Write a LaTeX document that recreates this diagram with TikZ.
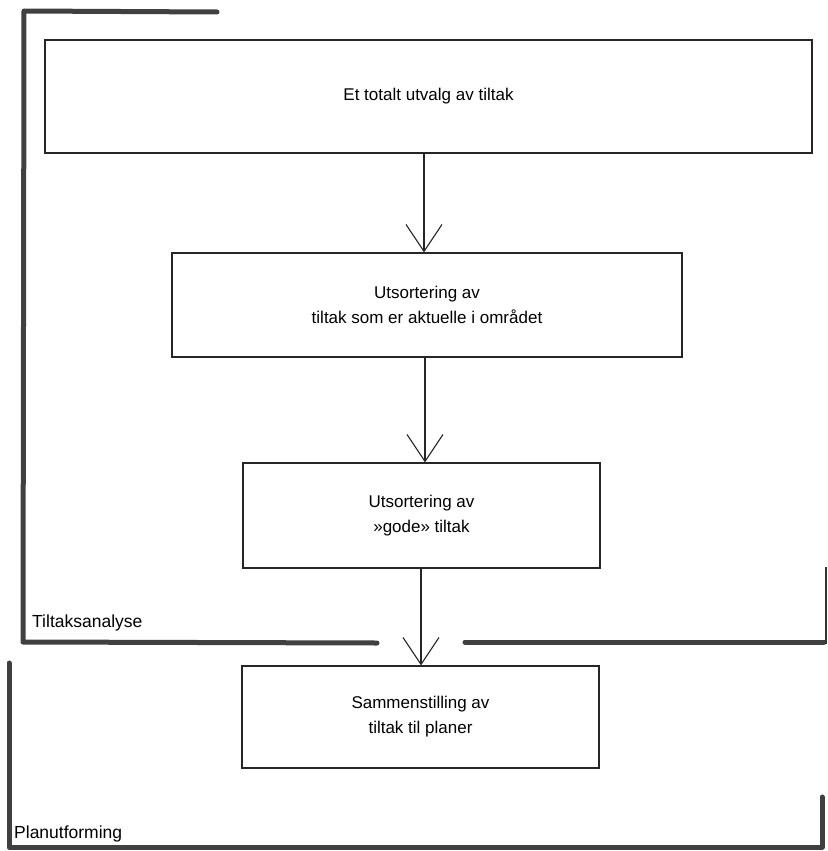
\documentclass[tikz,border=0pt]{standalone}
\usepackage{fontspec}
\setmainfont{Liberation Sans}
\usetikzlibrary{arrows.meta}
\tikzset{
  box/.style={draw=black!85, line width=1.1pt, inner sep=0pt, align=center,
              font=\fontsize{17}{25}\selectfont},
  frame/.style={draw=black!75, line width=5pt, line cap=round, line join=round},
  thinframe/.style={draw=black!80, line width=1.3pt},
  arr/.style={draw=black!85, line width=1.1pt,
              -{Straight Barb[length=27pt,width=36pt,line width=1.1pt]}},
  lbl/.style={anchor=base west, inner sep=0pt, font=\fontsize{17.5}{20}\selectfont}
}
\begin{document}
\begin{tikzpicture}[x=1pt,y=-1pt]
\useasboundingbox (0,0) rectangle (827,851);
% frames
\draw[frame] (217,12) -- (24,11) -- (23,642) -- (377,643);
\draw[frame] (465,642) -- (824,642);
\draw[thinframe] (826,644) -- (826,567);
\draw[frame] (9,663) -- (9,847) -- (822,847) -- (822,797);
% labels
\node[lbl] (l1) at (32,627) {Tiltaksanalyse};
\node[lbl] (l2) at (14,838) {Planutforming};
% boxes
\node[box, minimum width=767pt, minimum height=113pt] (b1) at (428.5,96.5) {Et totalt utvalg av tiltak};
\node[box, minimum width=510pt, minimum height=104pt] (b2) at (427,305) {Utsortering av\\tiltak som er aktuelle i området};
\node[box, minimum width=357pt, minimum height=105pt] (b3) at (421.5,515.5) {Utsortering av\\»gode» tiltak};
\node[box, minimum width=357pt, minimum height=102pt] (b4) at (420.5,717) {Sammenstilling av\\tiltak til planer};
% arrows
\coordinate (x1) at (424,0);
\coordinate (x2) at (425,0);
\coordinate (x3) at (421,0);
\draw[arr] (b1.south -| x1) -- (b2.north -| x1);
\draw[arr] (b2.south -| x2) -- (b3.north -| x2);
\draw[arr] (b3.south -| x3) -- (b4.north -| x3);
\end{tikzpicture}
\end{document}
